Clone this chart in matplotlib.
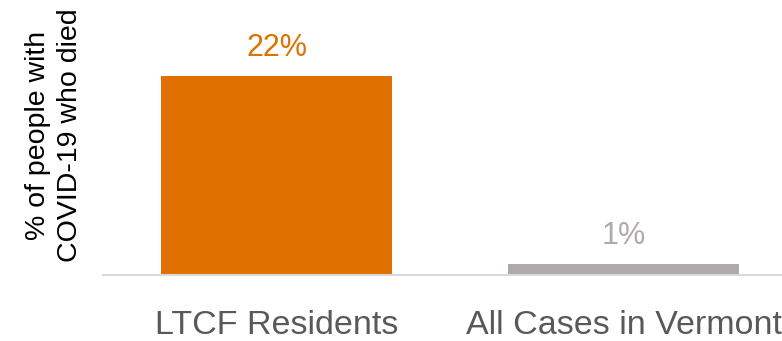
import matplotlib.pyplot as plt

categories = ["LTCF Residents", "All Cases in Vermont"]
values = [22, 1.2]
bar_colors = ["#E07000", "#AEAAAA"]

plt.rcParams["font.family"] = ["Liberation Sans", "DejaVu Sans"]

fig = plt.figure(figsize=(7.82, 3.41), dpi=100)
# axes extends past the right edge, like the cropped original
ax = fig.add_axes([103 / 782, 66 / 341, 694 / 782, 226.1 / 341])

x = range(len(categories))
ax.bar(x, values, width=0.666, color=bar_colors, zorder=2)
ax.set_xlim(-0.5, 1.5)
ax.set_ylim(0, 25)

for xi, v, c in zip(x, values, bar_colors):
    ax.text(xi, v + 1.4, f"{v:.0f}%", ha="center", va="bottom",
            fontsize=22, color=c)

ax.set_xticks(list(x))
ax.set_xticklabels(categories, fontsize=24.5, color="#595959")
ax.tick_params(axis="x", length=0, pad=25)
ax.set_yticks([])
for s in ["top", "right", "left"]:
    ax.spines[s].set_visible(False)
ax.spines["bottom"].set_color("#D9D9D9")
ax.spines["bottom"].set_linewidth(1.5)

fig.text(54 / 782, 1 - 135 / 341, "% of people with\nCOVID-19 who died",
         rotation=90, ha="center", va="center", multialignment="center",
         fontsize=20.5, color="black", linespacing=1.3)

fig.savefig("out.png", dpi=100, facecolor="white")
